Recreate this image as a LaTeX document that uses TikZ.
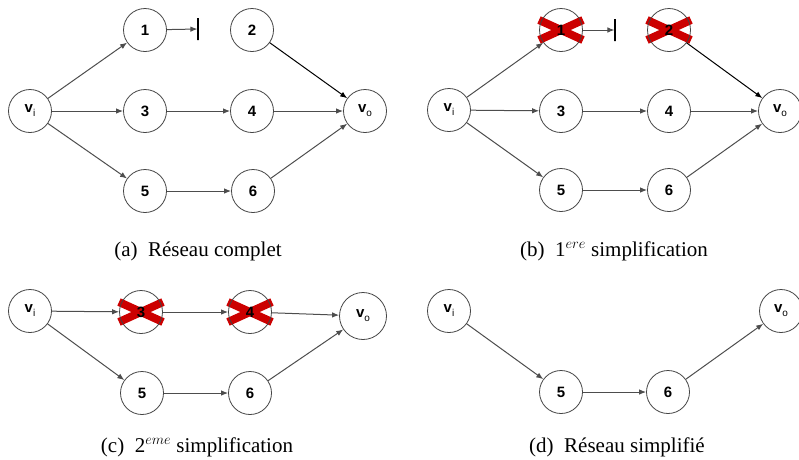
\documentclass[tikz,border=0pt]{standalone}
\usepackage{fontspec}
\setmainfont{Liberation Serif}
\newfontfamily\nodefont{Liberation Sans}
\usetikzlibrary{arrows.meta, backgrounds}
\DeclareMathSizes{21}{21}{15.5}{11}
\definecolor{ringgray}{HTML}{444444}
\definecolor{edgegray}{HTML}{4D4D4D}
\definecolor{crossred}{HTML}{CC0000}
\newcommand{\vlabel}[1]{v\raisebox{-0.5ex}{\mdseries\fontsize{10}{10}\selectfont #1}}

\begin{document}
\begin{tikzpicture}[
    x=1pt, y=-1pt,
    vertex/.style={circle, draw=ringgray, line width=0.8pt, minimum size=43pt, inner sep=0pt, font=\nodefont\bfseries\fontsize{15}{15}\selectfont},
    stopbar/.style={draw=black, line width=1.1pt, minimum width=0pt, minimum height=22pt, inner sep=0pt},
    arrow/.style={-{Latex[length=7pt, width=5.5pt]}, line width=1pt, color=edgegray},
    darkarrow/.style={arrow, color=black},
    cross/.style={line width=8pt, draw=crossred},
    caption/.style={anchor=base, font=\fontsize{21}{25}\selectfont}
]
\useasboundingbox (0,0) rectangle (799,459);

% (a) full network
\node[vertex] (a-vi) at (30,111) {\vlabel{i}};
\node[vertex] (a-1) at (145,30) {1};
\node[vertex] (a-2) at (252,30) {2};
\node[vertex] (a-3) at (145,111) {3};
\node[vertex] (a-4) at (252,111) {4};
\node[vertex] (a-5) at (145,191) {5};
\node[vertex] (a-6) at (253,191) {6};
\node[vertex] (a-vo) at (365,111) {\vlabel{o}};
\node[stopbar] (a-stop) at (198,29) {};

\draw[arrow] (a-vi) -- (a-1);
\draw[arrow] (a-vi) -- (a-3);
\draw[arrow] (a-vi) -- (a-5);
\draw[arrow] (a-1) -- (a-stop);
\draw[darkarrow] (a-2) -- (a-vo);
\draw[arrow] (a-3) -- (a-4);
\draw[arrow] (a-4) -- (a-vo);
\draw[arrow] (a-5) -- (a-6);
\draw[arrow] (a-6) -- (a-vo);

\node[caption] (a-cap) at (198,256) {(a)\enskip R\'eseau complet};

% (b) first simplification
\node[vertex] (b-vi) at (449,110) {\vlabel{i}};
\node[vertex] (b-1) at (561,30) {1};
\node[vertex] (b-2) at (669,30) {2};
\node[vertex] (b-3) at (561,111) {3};
\node[vertex] (b-4) at (669,111) {4};
\node[vertex] (b-5) at (561,190) {5};
\node[vertex] (b-6) at (669,190) {6};
\node[vertex] (b-vo) at (780,111) {\vlabel{o}};
\node[stopbar] (b-stop) at (615,30) {};

\draw[arrow] (b-vi) -- (b-1);
\draw[arrow] (b-vi) -- (b-3);
\draw[arrow] (b-vi) -- (b-5);
\draw[arrow] (b-1) -- (b-stop);
\draw[darkarrow] (b-2) -- (b-vo);
\draw[arrow] (b-3) -- (b-4);
\draw[arrow] (b-4) -- (b-vo);
\draw[arrow] (b-5) -- (b-6);
\draw[arrow] (b-6) -- (b-vo);

\node[caption] (b-cap) at (614,256) {(b)\enskip 1$^{ere}$ simplification};

% (c) second simplification
\node[vertex] (c-vi) at (30,311) {\vlabel{i}};
\node[vertex] (c-3) at (141,312) {3};
\node[vertex] (c-4) at (250,312) {4};
\node[vertex] (c-5) at (142,393) {5};
\node[vertex] (c-6) at (250,393) {6};
\node[vertex, minimum size=47pt] (c-vo) at (363,316) {\vlabel{o}};

\draw[arrow] (c-vi) -- (c-3);
\draw[arrow] (c-vi) -- (c-5);
\draw[arrow] (c-3) -- (c-4);
\draw[arrow] (c-4) -- (c-vo);
\draw[arrow] (c-5) -- (c-6);
\draw[arrow] (c-6) -- (c-vo);

\node[caption] (c-cap) at (197,452) {(c)\enskip 2$^{eme}$ simplification};

% (d) simplified network
\node[vertex] (d-vi) at (449,311) {\vlabel{i}};
\node[vertex] (d-5) at (561,392) {5};
\node[vertex] (d-6) at (668,392) {6};
\node[vertex] (d-vo) at (781,311) {\vlabel{o}};

\draw[arrow] (d-vi) -- (d-5);
\draw[arrow] (d-5) -- (d-6);
\draw[arrow] (d-6) -- (d-vo);

\node[caption] (d-cap) at (617,452) {(d)\enskip R\'eseau simplifi\'e};

% red crosses on removed nodes
\begin{pgfonlayer}{background}
\draw[cross] ([shift={(-22,-10)}]b-1.center) -- ([shift={(22,10)}]b-1.center);
\draw[cross] ([shift={(-22,10)}]b-1.center) -- ([shift={(22,-10)}]b-1.center);
\draw[cross] ([shift={(-22,-10)}]b-2.center) -- ([shift={(22,10)}]b-2.center);
\draw[cross] ([shift={(-22,10)}]b-2.center) -- ([shift={(22,-10)}]b-2.center);
\draw[cross] ([shift={(-22,-10)}]c-3.center) -- ([shift={(22,10)}]c-3.center);
\draw[cross] ([shift={(-22,10)}]c-3.center) -- ([shift={(22,-10)}]c-3.center);
\draw[cross] ([shift={(-22,-10)}]c-4.center) -- ([shift={(22,10)}]c-4.center);
\draw[cross] ([shift={(-22,10)}]c-4.center) -- ([shift={(22,-10)}]c-4.center);
\end{pgfonlayer}
\end{tikzpicture}
\end{document}
